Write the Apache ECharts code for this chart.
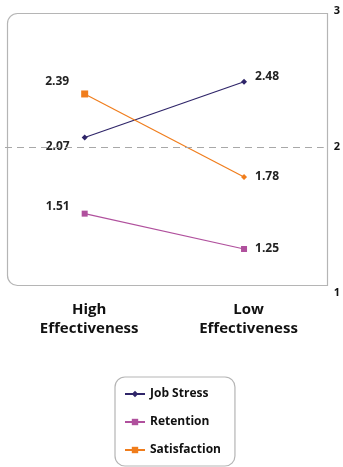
<!DOCTYPE html>
<html>
<head>
<meta charset="utf-8">
<script src="https://cdn.jsdelivr.net/npm/echarts@6/dist/echarts.min.js"></script>
<style>
  html, body { margin: 0; padding: 0; background: #fff; }
  #chart { width: 343px; height: 467px; }
</style>
</head>
<body>
<div id="chart"></div>
<script>
// Effectiveness groups and mean scores per measure
const categories = ['High\nEffectiveness', 'Low\nEffectiveness'];
const jobStress = [2.07, 2.48];
const retention = [1.51, 1.25];
const satisfaction = [2.39, 1.78];
const yTicks = [1, 2, 3];

const FONT = '"Open Sans", Roboto, "Liberation Sans", sans-serif';
const labelBase = { show: true, fontFamily: FONT, fontWeight: 'bold', fontSize: 12, color: '#222' };

// Label placement for the two columns: left of the first point, right of the second
function points(values, leftOffsetY, rightOffsetY, symbols) {
  return values.map((v, i) => {
    const item = {
      value: v,
      label: i === 0
        ? Object.assign({}, labelBase, { position: 'left', distance: 12, offset: [0, leftOffsetY] })
        : Object.assign({}, labelBase, { position: 'right', distance: 8, offset: [0, rightOffsetY] })
    };
    if (symbols) { item.symbol = symbols[i].symbol; item.symbolSize = symbols[i].size; }
    return item;
  });
}

const chart = echarts.init(document.getElementById('chart'), null, { renderer: 'canvas' });

chart.setOption({
  animation: false,
  grid: { left: 5, right: 18, top: 11, bottom: 184, containLabel: false },
  graphic: [{
    type: 'rect',
    left: 5, top: 11,
    shape: { width: 320, height: 272, r: [10, 0, 0, 10] },
    style: { fill: 'none', stroke: '#b5b5b5', lineWidth: 1.2 },
    silent: true, z: 0
  }],
  legend: {
    orient: 'vertical',
    left: 115, top: 377,
    padding: [7, 14, 6, 9],
    itemGap: 8,
    itemWidth: 20, itemHeight: 8,
    borderColor: '#b5b5b5', borderWidth: 1.2, borderRadius: 10,
    textStyle: { fontFamily: FONT, fontWeight: 'bold', fontSize: 12, color: '#111', lineHeight: 20 },
    data: ['Job Stress', 'Retention', 'Satisfaction']
  },
  xAxis: {
    type: 'category',
    data: categories,
    boundaryGap: true,
    axisLine: { show: false },
    axisTick: { show: false },
    axisLabel: {
      margin: 17,
      fontFamily: FONT, fontWeight: 'bold', fontSize: 15, color: '#111',
      lineHeight: 19, padding: [0, 0, 0, 9]
    }
  },
  yAxis: {
    type: 'value',
    position: 'right',
    min: yTicks[0], max: yTicks[yTicks.length - 1], interval: 1,
    axisLine: { show: false },
    axisTick: { show: false },
    splitLine: { show: false },
    axisLabel: {
      margin: 10,
      fontFamily: FONT, fontWeight: 'bold', fontSize: 11, color: '#111',
      formatter: v => (v === yTicks[0] ? '{low|' + v + '}' : String(v)),
      rich: { low: { fontFamily: FONT, fontWeight: 'bold', fontSize: 11, color: '#111', padding: [20, 0, 0, 0] } }
    }
  },
  series: [
    {
      name: 'Job Stress', type: 'line',
      color: '#2f2569',
      symbol: 'diamond', symbolSize: 6,
      lineStyle: { width: 1.2, color: '#2f2569' },
      data: points(jobStress, 9, -5),
      markLine: {
        silent: true, symbol: 'none', label: { show: false },
        lineStyle: { type: [7, 5], color: '#a8a8a8', width: 1.2 },
        data: [{ yAxis: 2 }]
      },
      z: 3
    },
    {
      name: 'Retention', type: 'line',
      color: '#b0509d',
      symbol: 'rect', symbolSize: 6,
      lineStyle: { width: 1.2, color: '#b0509d' },
      data: points(retention, -7, 0),
      z: 3
    },
    {
      name: 'Satisfaction', type: 'line',
      color: '#f07d1c',
      symbol: 'rect', symbolSize: 7,
      lineStyle: { width: 1.2, color: '#f07d1c' },
      data: points(satisfaction, -12, 0, [{ symbol: 'rect', size: 7 }, { symbol: 'diamond', size: 6 }]),
      z: 3
    }
  ]
});
</script>
</body>
</html>
